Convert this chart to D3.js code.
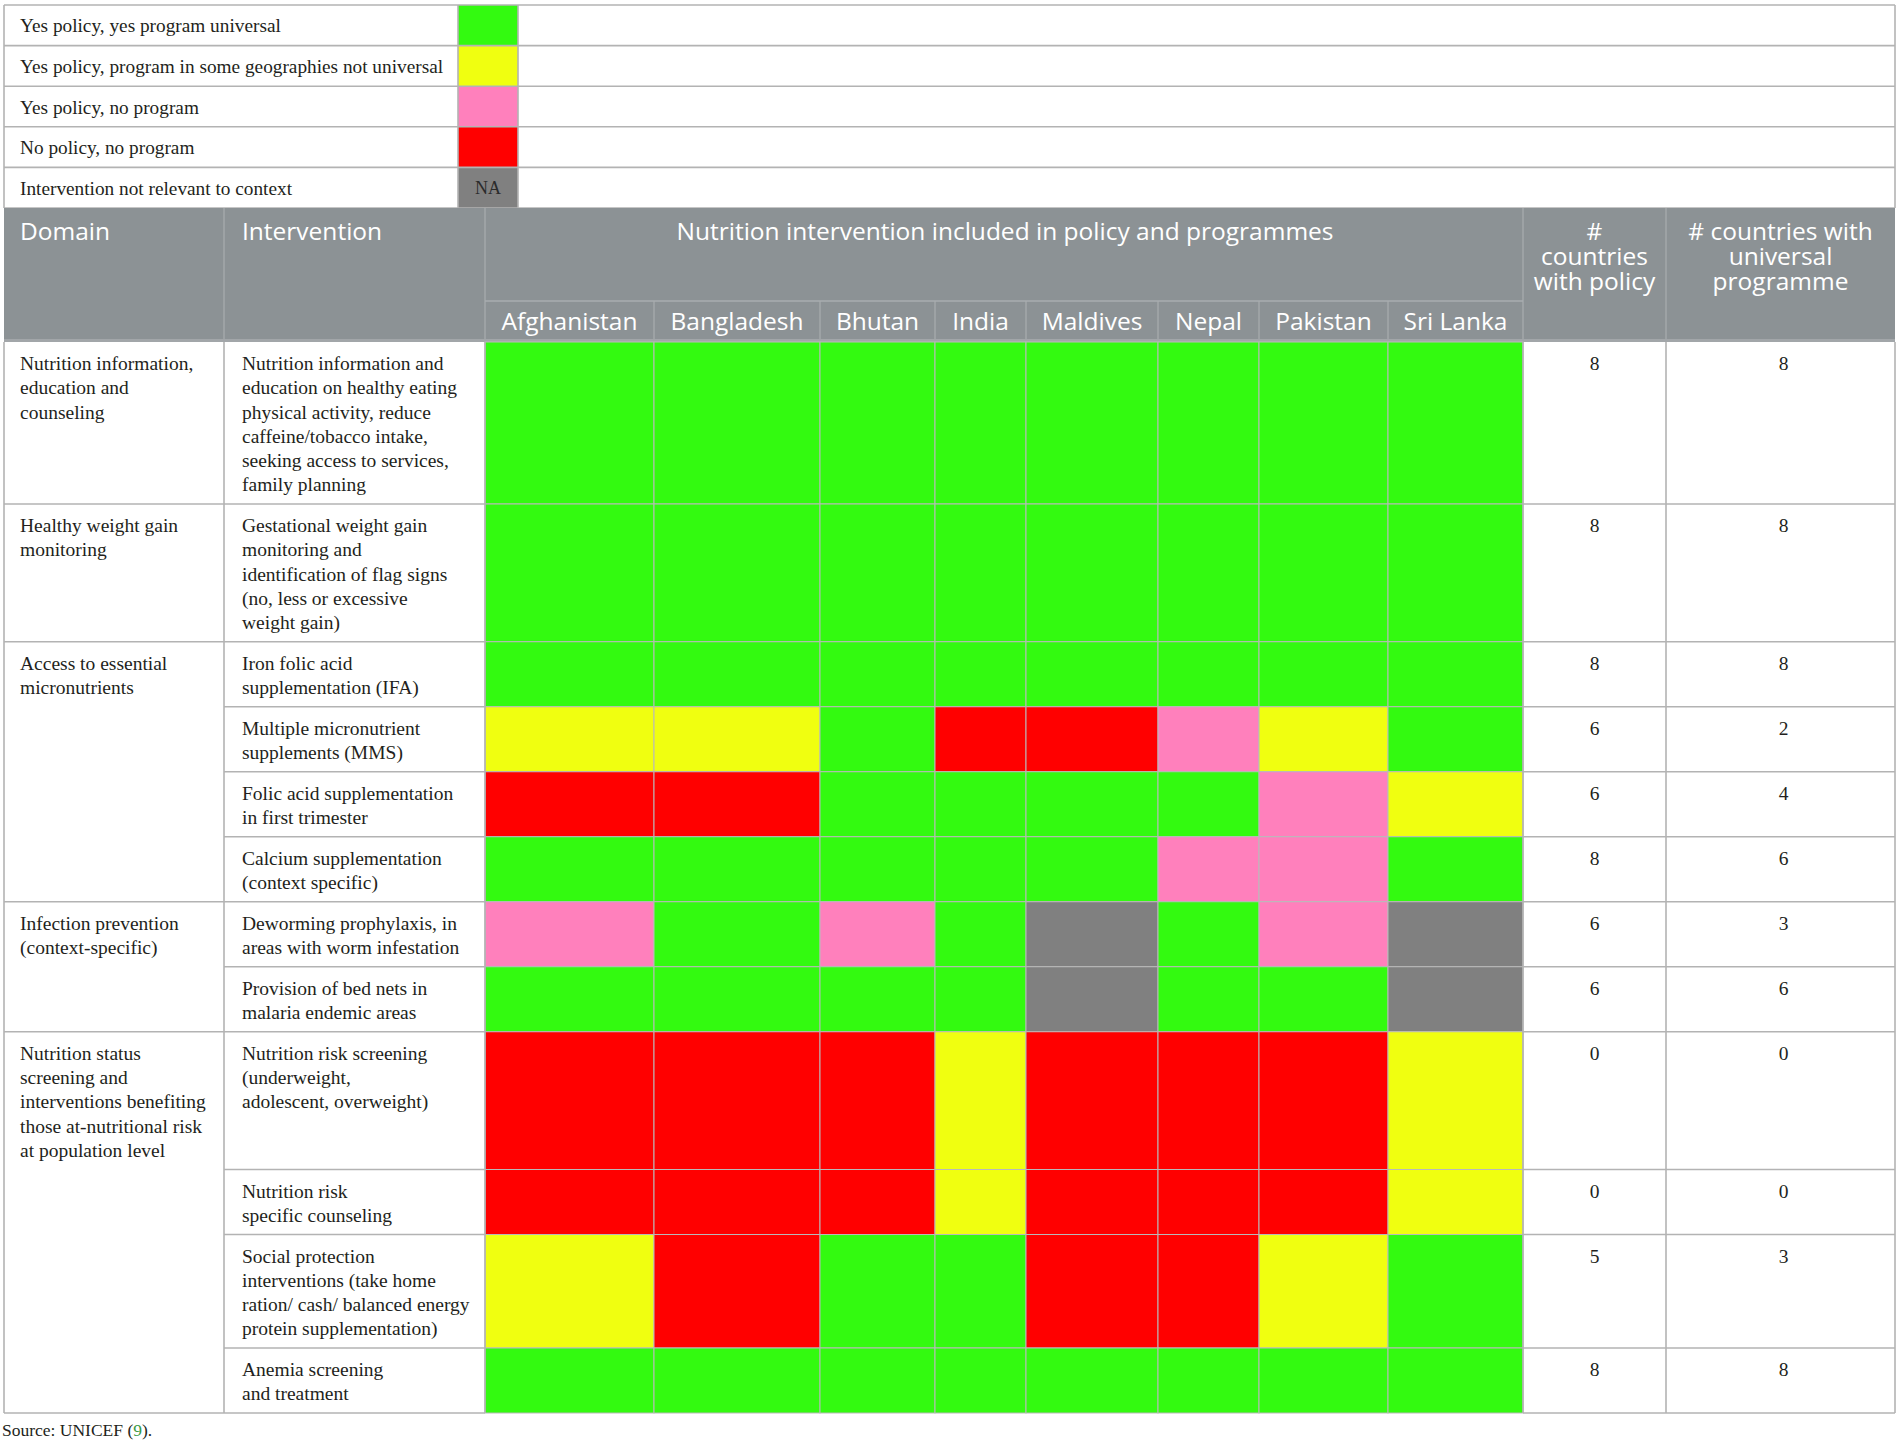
<!DOCTYPE html>
<html>
<head>
<meta charset="utf-8">
<script src="https://cdn.jsdelivr.net/npm/d3@7"></script>
<style>
  html, body { margin: 0; padding: 0; background: #ffffff; }
  svg { display: block; }
</style>
</head>
<body>
<svg id="chart" width="1899" height="1443"></svg>
<script>
// ---------------- DATA ----------------
const legendLabels = [
  "Yes policy, yes program universal",
  "Yes policy, program in some geographies not universal",
  "Yes policy, no program",
  "No policy, no program",
  "Intervention not relevant to context"
];
const statusCodes = ["U", "S", "P", "N", "NA"];
const statusColors = ["#33fa10", "#f0ff10", "#ff80bc", "#ff0000", "#808080"];

const countries = ["Afghanistan", "Bangladesh", "Bhutan", "India", "Maldives", "Nepal", "Pakistan", "Sri Lanka"];

const domains = [
  ["Nutrition information,", "education and", "counseling"],
  ["Healthy weight gain", "monitoring"],
  ["Access to essential", "micronutrients"],
  ["Infection prevention", "(context-specific)"],
  ["Nutrition status", "screening and", "interventions benefiting", "those at-nutritional risk", "at population level"]
];
const domainOfIntervention = [0, 1, 2, 2, 2, 2, 3, 3, 4, 4, 4, 4];

const interventions = [
  ["Nutrition information and", "education on healthy eating", "physical activity, reduce", "caffeine/tobacco intake,", "seeking access to services,", "family planning"],
  ["Gestational weight gain", "monitoring and", "identification of flag signs", "(no, less or excessive", "weight gain)"],
  ["Iron folic acid", "supplementation (IFA)"],
  ["Multiple micronutrient", "supplements (MMS)"],
  ["Folic acid supplementation", "in first trimester"],
  ["Calcium supplementation", "(context specific)"],
  ["Deworming prophylaxis, in", "areas with worm infestation"],
  ["Provision of bed nets in", "malaria endemic areas"],
  ["Nutrition risk screening", "(underweight,", "adolescent, overweight)"],
  ["Nutrition risk", "specific counseling"],
  ["Social protection", "interventions (take home", "ration/ cash/ balanced energy", "protein supplementation)"],
  ["Anemia screening", "and treatment"]
];

// status per intervention, one code per country (Afghanistan ... Sri Lanka)
const statusRows = [
  ["U", "U", "U", "U", "U", "U", "U", "U"],
  ["U", "U", "U", "U", "U", "U", "U", "U"],
  ["U", "U", "U", "U", "U", "U", "U", "U"],
  ["S", "S", "U", "N", "N", "P", "S", "U"],
  ["N", "N", "U", "U", "U", "U", "P", "S"],
  ["U", "U", "U", "U", "U", "P", "P", "U"],
  ["P", "U", "P", "U", "NA", "U", "P", "NA"],
  ["U", "U", "U", "U", "NA", "U", "U", "NA"],
  ["N", "N", "N", "S", "N", "N", "N", "S"],
  ["N", "N", "N", "S", "N", "N", "N", "S"],
  ["S", "N", "U", "U", "N", "N", "S", "U"],
  ["U", "U", "U", "U", "U", "U", "U", "U"]
];

const countWithPolicy = [8, 8, 8, 6, 6, 8, 6, 6, 0, 0, 5, 8];
const countWithUniversal = [8, 8, 8, 2, 4, 6, 3, 6, 0, 0, 3, 8];

const headerDomain = "Domain";
const headerIntervention = "Intervention";
const headerCountries = "Nutrition intervention included in policy and programmes";
const headerPolicy = ["#", "countries", "with policy"];
const headerUniversal = ["# countries with", "universal", "programme"];
const sourceText = ["Source: UNICEF (", "9", ")."];

// ---------------- LAYOUT ----------------
const W = 1899, H = 1443;
const svg = d3.select("#chart");
const serif = "'Liberation Serif', 'Times New Roman', serif";
const sans = "'Open Sans', 'Noto Sans', sans-serif";
const ink = "#231f20";
const gridC = "#b3b3b3";
const headBg = "#8c9295";
const headLine = "#a9adb0";
const bodyFS = 19.5, headFS = 24.5;

const left = 5, right = 1895;
const colDomain = [left, 224], colInterv = [224, 485];
const countryWidths = [169, 166, 115, 91, 132, 101, 129, 135];
const countryX0 = 485;
const countryEdges = [countryX0, ...Array.from(d3.cumsum(countryWidths), d => countryX0 + d)];
const xCountry = d3.scaleOrdinal().domain(countries).range(countryEdges.slice(0, -1));
const wCountry = d3.scaleOrdinal().domain(countries).range(countryWidths);
const countryRight = countryEdges[countryEdges.length - 1];
const colPolicy = [countryRight, 1666], colUniv = [1666, right];

// rows
const lineH = 24.25, rowPad = 16.5;
const rowLines = [6, 5, 2, 2, 2, 2, 2, 2, 5, 2, 4, 2];
const rowHeights = rowLines.map(n => n * lineH + rowPad);
const bodyTop = 342;
const rowIdx = d3.range(interventions.length);
const rowEdges = [bodyTop, ...Array.from(d3.cumsum(rowHeights), d => bodyTop + d)];
const yRow = d3.scaleOrdinal().domain(rowIdx).range(rowEdges.slice(0, -1));
const hRow = d3.scaleOrdinal().domain(rowIdx).range(rowHeights);
const bodyBottom = rowEdges[rowEdges.length - 1];

const color = d3.scaleOrdinal().domain(statusCodes).range(statusColors);

// ---------------- LEGEND ----------------
const legTop = 5, legBottom = 208;
const yLeg = d3.scaleBand().domain(d3.range(legendLabels.length)).range([legTop, legBottom]);
const swX0 = 458, swX1 = 518;
const leg = svg.append("g");
leg.selectAll("rect.sw").data(legendLabels).join("rect")
  .attr("x", swX0).attr("y", (d, i) => yLeg(i))
  .attr("width", swX1 - swX0).attr("height", yLeg.bandwidth())
  .attr("fill", (d, i) => color(statusCodes[i]));
leg.selectAll("text.lab").data(legendLabels).join("text")
  .attr("x", 20).attr("y", (d, i) => yLeg(i) + yLeg.bandwidth() / 2 + 7)
  .attr("font-family", serif).attr("font-size", 19.3).attr("fill", ink)
  .text(d => d);
leg.append("text")
  .attr("x", (swX0 + swX1) / 2).attr("y", yLeg(4) + yLeg.bandwidth() / 2 + 6.5)
  .attr("text-anchor", "middle").attr("font-family", serif).attr("font-size", 18).attr("fill", "#2b2b2b")
  .text("NA");
// legend grid
leg.selectAll("line.h").data(d3.range(legendLabels.length + 1)).join("line")
  .attr("x1", left - 1).attr("x2", right)
  .attr("y1", i => i < legendLabels.length ? yLeg(i) : legBottom)
  .attr("y2", i => i < legendLabels.length ? yLeg(i) : legBottom)
  .attr("stroke", gridC).attr("stroke-width", 1.6);
[left - 1, swX0, swX1, right].forEach(x => {
  leg.append("line").attr("x1", x).attr("x2", x).attr("y1", legTop).attr("y2", legBottom)
    .attr("stroke", gridC).attr("stroke-width", 1.6);
});

// ---------------- HEADER ----------------
const headTop = 208, subLine = 301;
const head = svg.append("g");
head.append("rect").attr("x", left - 1).attr("y", headTop).attr("width", right - left + 1).attr("height", bodyTop - headTop)
  .attr("fill", headBg);
// separators
[colInterv[0], colInterv[1], colPolicy[0], colUniv[0]].forEach(x => {
  head.append("line").attr("x1", x).attr("x2", x).attr("y1", headTop).attr("y2", bodyTop)
    .attr("stroke", headLine).attr("stroke-width", 1.2);
});
head.append("line").attr("x1", countryX0).attr("x2", countryRight).attr("y1", subLine).attr("y2", subLine)
  .attr("stroke", headLine).attr("stroke-width", 1.4);
head.selectAll("line.cs").data(countries.slice(1)).join("line")
  .attr("x1", d => xCountry(d)).attr("x2", d => xCountry(d))
  .attr("y1", subLine).attr("y2", bodyTop)
  .attr("stroke", headLine).attr("stroke-width", 1.2);
head.append("rect").attr("x", left - 1).attr("y", bodyTop - 3).attr("width", right - left + 1).attr("height", 3)
  .attr("fill", "#a2a6a9");

const headTxt = (x, y, lines, anchor) => {
  const t = head.append("text")
    .attr("text-anchor", anchor || "start")
    .attr("font-family", sans).attr("font-size", headFS).attr("fill", "#ffffff");
  lines.forEach((l, i) => t.append("tspan").attr("x", x).attr("y", y + i * 25).text(l));
  return t;
};
headTxt(20, 240, [headerDomain]);
headTxt(242, 240, [headerIntervention]);
headTxt((countryX0 + countryRight) / 2 + 1, 240, [headerCountries], "middle");
headTxt((colPolicy[0] + colPolicy[1]) / 2, 240, headerPolicy, "middle");
headTxt((colUniv[0] + colUniv[1]) / 2, 240, headerUniversal, "middle");
head.selectAll("text.cn").data(countries).join("text")
  .attr("x", d => xCountry(d) + wCountry(d) / 2).attr("y", 330)
  .attr("text-anchor", "middle").attr("font-family", sans).attr("font-size", headFS).attr("fill", "#ffffff")
  .text(d => d);

// ---------------- BODY ----------------
const body = svg.append("g");
// colored cells
const cells = [];
statusRows.forEach((row, r) => row.forEach((s, c) => cells.push({ r, c: countries[c], s })));
body.selectAll("rect.cell").data(cells).join("rect")
  .attr("x", d => xCountry(d.c)).attr("y", d => yRow(d.r))
  .attr("width", d => wCountry(d.c)).attr("height", d => hRow(d.r))
  .attr("fill", d => color(d.s))
  .attr("stroke", "#b9b9b9").attr("stroke-width", 1);

// domain text (spans)
const domainSpans = domains.map((lines, di) => {
  const rows = rowIdx.filter(r => domainOfIntervention[r] === di);
  return { lines, r0: d3.min(rows), r1: d3.max(rows) };
});
const firstBase = 28;
domainSpans.forEach(sp => {
  const t = body.append("text").attr("font-family", serif).attr("font-size", bodyFS).attr("fill", ink);
  sp.lines.forEach((l, i) => t.append("tspan").attr("x", 20).attr("y", yRow(sp.r0) + firstBase + i * lineH).text(l));
});
interventions.forEach((lines, r) => {
  const t = body.append("text").attr("font-family", serif).attr("font-size", bodyFS).attr("fill", ink);
  lines.forEach((l, i) => t.append("tspan").attr("x", 242).attr("y", yRow(r) + firstBase + i * lineH).text(l));
});
body.selectAll("text.pol").data(countWithPolicy).join("text")
  .attr("x", (colPolicy[0] + colPolicy[1]) / 2).attr("y", (d, r) => yRow(r) + firstBase)
  .attr("text-anchor", "middle").attr("font-family", serif).attr("font-size", bodyFS).attr("fill", ink)
  .text(d => d);
body.selectAll("text.uni").data(countWithUniversal).join("text")
  .attr("x", (colUniv[0] + colUniv[1]) / 2 + 3).attr("y", (d, r) => yRow(r) + firstBase)
  .attr("text-anchor", "middle").attr("font-family", serif).attr("font-size", bodyFS).attr("fill", ink)
  .text(d => d);

// grid lines in white areas
const g = body.append("g").attr("stroke", gridC).attr("stroke-width", 1.6);
rowEdges.slice(1).forEach((y, i) => {
  g.append("line").attr("x1", colInterv[0]).attr("x2", colInterv[1]).attr("y1", y).attr("y2", y);
  g.append("line").attr("x1", colPolicy[0]).attr("x2", right).attr("y1", y).attr("y2", y);
});
domainSpans.forEach(sp => {
  const y = yRow(sp.r1) + hRow(sp.r1);
  g.append("line").attr("x1", left - 1).attr("x2", colDomain[1]).attr("y1", y).attr("y2", y);
});
[left - 1, colDomain[1], colInterv[1], colPolicy[0], colUniv[0], right].forEach(x => {
  g.append("line").attr("x1", x).attr("x2", x).attr("y1", bodyTop).attr("y2", bodyBottom);
});

// ---------------- SOURCE ----------------
const src = svg.append("text").attr("x", 2).attr("y", 1436)
  .attr("font-family", serif).attr("font-size", 17.5).attr("fill", ink);
src.append("tspan").text(sourceText[0]);
src.append("tspan").attr("fill", "#3a9a45").text(sourceText[1]);
src.append("tspan").text(sourceText[2]);
</script>
</body>
</html>
